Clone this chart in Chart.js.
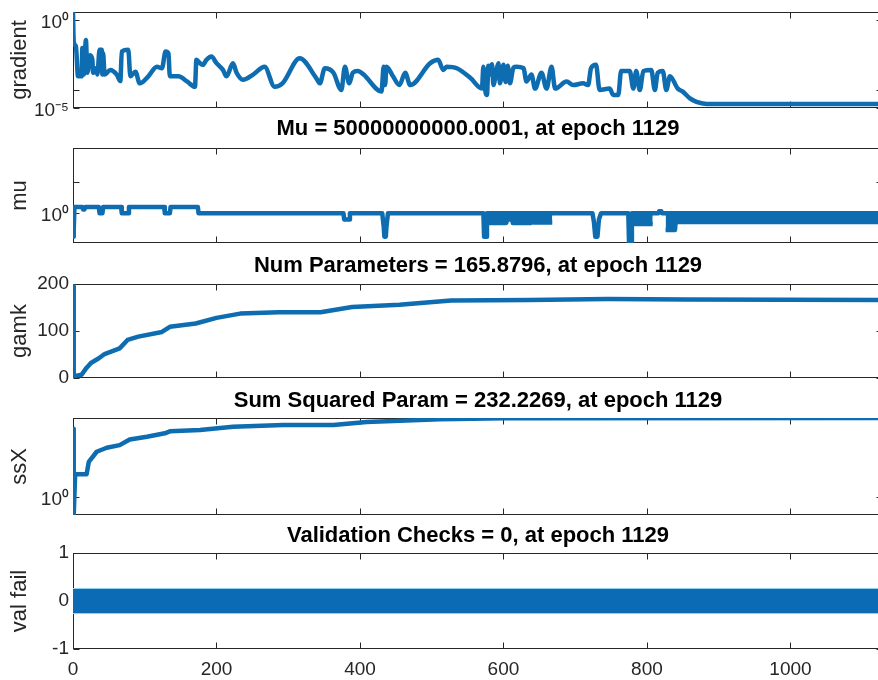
<!DOCTYPE html>
<html>
<head>
<meta charset="utf-8">
<title>Training state</title>
<script src="https://cdn.jsdelivr.net/npm/chart.js@4.4.1/dist/chart.umd.min.js"></script>
<style>
  html, body { margin: 0; padding: 0; background: #ffffff; overflow: hidden; }
  body { width: 878px; height: 680px; position: relative; }
  canvas { position: absolute; left: 0; }
</style>
</head>
<body>
<canvas id="pGrad"></canvas>
<canvas id="pMu"></canvas>
<canvas id="pGamk"></canvas>
<canvas id="pSsx"></canvas>
<canvas id="pVal"></canvas>
<script>
// ---- epoch axis ----
const epochMax = 1129;
const xTickValues = [0, 200, 400, 600, 800, 1000];
const xTickLabels = ['0', '200', '400', '600', '800', '1000'];

// ---- gradient ----
const gradEpoch = [0, 1, 4, 7, 12, 13, 15, 18, 20, 24, 27, 28, 32, 34, 37, 40, 41, 42, 44, 52,
  61, 66, 68, 77, 80, 87, 93, 105, 117, 124, 129, 133, 135, 147, 159, 170, 172, 177, 181, 186,
  193, 200, 209, 214, 223, 228, 237, 251, 267, 281, 292, 316, 339, 344, 351, 363, 374, 379, 385, 390,
  397, 405, 430, 433, 435, 437, 446, 455, 463, 470, 498, 509, 516, 521, 535, 554, 570, 572, 575, 577,
  579, 581, 584, 586, 590, 593, 595, 600, 603, 606, 609, 614, 618, 628, 632, 639, 644, 653, 660, 667,
  672, 688, 697, 711, 718, 722, 729, 734, 748, 753, 760, 764, 776, 781, 785, 790, 795, 806, 811, 815,
  822, 827, 832, 843, 850, 860, 869, 883, 1129];
const gradValue = [2.8, 0.059, 0.032, 6.3e-4, 6.3e-4, 0.025, 7.9e-4, 0.072, 1e-3, 0.01, 5.4e-3, 1e-3, 1.8e-3, 7.9e-4, 0.02, 0.02, 7.9e-4, 0.0126, 7.9e-4, 1.45e-3,
  7.9e-4, 3.4e-4, 0.016, 0.02, 6.3e-4, 1.15e-3, 2.5e-4, 6.3e-4, 2.2e-3, 1.8e-3, 0.016, 0.0126, 6.3e-4, 6.3e-4, 3.2e-4, 1.6e-4, 5.4e-3, 3.5e-3, 2.8e-3, 5.4e-3,
  8.3e-3, 3.5e-3, 1.45e-3, 6.3e-4, 3.5e-3, 1e-3, 4e-4, 7.9e-4, 2.2e-3, 1.6e-4, 2.5e-4, 6.6e-3, 5e-4, 2.5e-4, 1.8e-3, 1e-3, 1.05e-4, 2.2e-3, 2.5e-4, 1e-3,
  1.26e-3, 7.9e-4, 8.5e-5, 2.2e-3, 2e-4, 2.2e-3, 6.3e-4, 2e-4, 1e-3, 2e-4, 3.5e-3, 5.4e-3, 1.45e-3, 2.2e-3, 1.8e-3, 5e-4, 1.26e-4, 2.2e-3, 8e-5, 5.5e-5,
  2.5e-3, 7.9e-4, 3e-3, 2e-4, 1.26e-3, 3.5e-3, 2.5e-4, 2.8e-3, 3e-4, 2.5e-3, 2.5e-4, 2e-3, 2.2e-3, 1.8e-3, 3.2e-4, 7.9e-4, 1.26e-4, 1e-3, 1.26e-4, 2.2e-3,
  1.26e-4, 3.2e-4, 2e-4, 2.5e-4, 2e-4, 1.8e-3, 2.8e-3, 1.05e-4, 1.26e-4, 5.5e-5, 5.5e-5, 1.26e-3, 1.26e-3, 1.26e-4, 1.26e-3, 1.05e-4, 1.26e-3, 1.45e-3, 1.05e-4, 1e-3,
  1.26e-3, 1.05e-4, 6.3e-4, 1.26e-4, 8.5e-5, 3.5e-5, 2.2e-5, 1.7e-5, 1.7e-5];
const gradTicks = [1e-5, 1e-4, 1];
const gradTickLabels = ['10\u207B\u2075', '', '10\u2070'];

// ---- mu ----
const muEpoch = [0, 1, 2, 13, 14, 16, 17, 36, 37, 41, 42, 67, 68, 77, 78, 127, 128, 135, 136, 174,
  175, 377, 378, 385, 386, 431, 433, 434, 436, 437, 439, 572, 573, 576, 577, 724, 726, 728, 731, 733,
  736, 774, 775, 778, 779, 816, 817, 820, 821, 1129];
const muValue = [2e-4, 2e-3, 10, 10, 4, 4, 10, 10, 1, 1, 10, 10, 1, 1, 10, 10, 1, 1, 10, 10,
  1, 1, 0.1, 0.1, 1, 1, 0.01, 2e-4, 2e-4, 0.01, 1, 1, 2e-4, 2e-4, 1, 1, 0.05, 2e-4, 2e-4, 0.1,
  1, 1, 2.2e-5, 2.2e-5, 1, 1, 2, 2, 1, 1];
// stretches where mu flips every epoch: upper and lower envelope
const muBandEpoch = [578, 604, 605, 612, 613, 637, 638, 641, 642, 668, 669,
  781, 808, 809,
  826, 839, 840, 852, 853, 1129];
const muBandHigh = [1, 1, 1, 1, 1, 1, 1, 1, 1, 1, null,
  1, 1, null,
  1, 1, 1, 1, 1, 1];
const muBandLow = [0.03, 0.03, 0.1, 0.1, 0.03, 0.03, 0.3, 0.3, 0.035, 0.035, null,
  0.02, 0.02, null,
  2.3e-3, 2.3e-3, 0.04, 0.04, 0.04, 0.04];
const muTicks = [1, 1e5];
const muTickLabels = ['10\u2070', ''];

// ---- gamk ----
const gamkEpoch = [0, 1, 5, 12, 19, 25, 36, 44, 65, 76, 91, 124, 135, 171, 200, 233, 287, 345, 389, 455,
  527, 636, 745, 855, 1129];
const gamkValue = [195, 3, 5, 7, 22, 32, 42, 51, 63, 81, 88, 98, 109, 116, 128, 137, 140, 140, 151, 156,
  165, 166, 168, 167, 165.8796];
const gamkTicks = [0, 100, 200];
const gamkTickLabels = ['0', '100', '200'];

// ---- ssX ----
const ssxEpoch = [0, 1, 3, 19, 22, 33, 47, 65, 79, 103, 128, 135, 177, 223, 293, 363, 409, 511, 600, 1129];
const ssxValue = [110, 0.295, 4.9, 4.9, 11.4, 22.8, 30, 36, 53, 64, 81, 93, 101, 127, 143, 143, 176, 212, 228, 232.2269];
const ssxTicks = [1];
const ssxTickLabels = ['10\u2070'];

// ---- validation checks ----
const valEpoch = [0, 1129];
const valValue = [0, 0];
const valTicks = [-1, 0, 1];
const valTickLabels = ['-1', '0', '1'];

// ---- styling ----
const FONT = "'Liberation Sans', Arial, Helvetica, sans-serif";
const LINE = '#0e6cb0';
const AXIS = '#262626';
const CANVAS_W = 886;

function pts(xs, ys) {
  return xs.map((x, i) => ({ x: x, y: ys[i] }));
}

function lineSet(xs, ys, extra) {
  return Object.assign({
    data: pts(xs, ys),
    borderColor: LINE,
    backgroundColor: LINE,
    borderWidth: 4.5,
    pointRadius: 0,
    tension: 0,
    fill: false,
    spanGaps: false,
    borderJoinStyle: 'round'
  }, extra || {});
}

// axes box with inward tick marks on every side, as in a boxed plot
const boxTicks = {
  id: 'boxTicks',
  beforeDatasetsDraw(chart) {
    const { ctx, chartArea: a, scales } = chart;
    const o = chart.options.plugins.boxTicks;
    const L = Math.round(a.left) + 0.5, R = Math.round(a.right) - 0.5;
    const T = Math.round(a.top) + 0.5, B = Math.round(a.bottom) - 0.5;
    ctx.save();
    ctx.strokeStyle = AXIS;
    ctx.lineWidth = 1;
    ctx.strokeRect(L, T, R - L, B - T);
    ctx.beginPath();
    for (const v of xTickValues) {
      const px = Math.round(scales.x.getPixelForValue(v)) + 0.5;
      ctx.moveTo(px, T); ctx.lineTo(px, T + 6);
      ctx.moveTo(px, B); ctx.lineTo(px, B - 6);
    }
    for (const v of o.yTicks) {
      const py = Math.round(scales.y.getPixelForValue(v)) + 0.5;
      ctx.moveTo(L, py); ctx.lineTo(L + 6, py);
      ctx.moveTo(R, py); ctx.lineTo(R - 6, py);
    }
    ctx.stroke();
    ctx.restore();
  }
};

function panel(p) {
  const cv = document.getElementById(p.id);
  cv.width = CANVAS_W;
  cv.height = p.height;
  cv.style.top = p.top + 'px';
  cv.style.width = CANVAS_W + 'px';
  cv.style.height = p.height + 'px';

  const xScale = {
    type: 'linear',
    min: 0,
    max: epochMax,
    display: !!p.showX,
    grid: { display: false, drawTicks: false },
    border: { display: false },
    ticks: {
      includeBounds: false,
      padding: 9,
      color: AXIS,
      font: { family: FONT, size: 19 },
      maxRotation: 0,
      autoSkip: false,
      callback: (v, i) => xTickLabels[i]
    },
    afterBuildTicks: s => { s.ticks = xTickValues.map(v => ({ value: v })); },
    afterFit: s => {
      if (p.showX) s.height = 31;
      s.paddingLeft = 0; s.paddingRight = 0; s.paddingTop = 0; s.paddingBottom = 0;
    }
  };

  const yScale = {
    type: p.yType,
    min: p.yMin,
    max: p.yMax,
    grid: { display: false, drawTicks: false },
    border: { display: false },
    title: {
      display: true,
      text: p.yLabel,
      color: AXIS,
      font: { family: FONT, size: 22 },
      padding: { top: 7, bottom: 0 }
    },
    ticks: {
      padding: 4,
      color: AXIS,
      labelOffset: p.labelOffset || 0,
      font: { family: FONT, size: 19 },
      autoSkip: false,
      callback: (v, i) => p.yTickLabels[i]
    },
    afterBuildTicks: s => { s.ticks = p.yTicks.map(v => ({ value: v })); },
    afterFit: s => {
      s.width = 73;
      s.paddingLeft = 0; s.paddingRight = 0; s.paddingTop = 0; s.paddingBottom = 0;
    }
  };

  return new Chart(cv, {
    type: 'line',
    data: { datasets: p.datasets },
    options: {
      responsive: false,
      animation: false,
      devicePixelRatio: 1,
      layout: { padding: p.padding },
      scales: { x: xScale, y: yScale },
      plugins: {
        legend: { display: false },
        tooltip: { enabled: false },
        boxTicks: { yTicks: p.yTicks },
        title: {
          display: !!p.title,
          text: p.title || '',
          fullSize: false,
          color: '#000000',
          font: { family: FONT, size: 22, weight: 'bold' },
          padding: { top: 0, bottom: p.titleGap || 0 }
        }
      }
    },
    plugins: [boxTicks]
  });
}

panel({
  id: 'pGrad', top: 0, height: 122,
  padding: { top: 12, bottom: 14, left: 0, right: 3 },
  yLabel: 'gradient', yType: 'logarithmic', yMin: 1e-5, yMax: 2.8,
  yTicks: gradTicks, yTickLabels: gradTickLabels, labelOffset: 3,
  datasets: [lineSet(gradEpoch, gradValue, { cubicInterpolationMode: 'monotone' })]
});

panel({
  id: 'pMu', top: 116, height: 141,
  title: 'Mu = 50000000000.0001, at epoch 1129', titleGap: 5.6,
  padding: { top: 0, bottom: 14, left: 0, right: 3 },
  yLabel: 'mu', yType: 'logarithmic', yMin: 2e-5, yMax: 2e10,
  yTicks: muTicks, yTickLabels: muTickLabels, labelOffset: 3,
  datasets: [
    lineSet(muEpoch, muValue),
    lineSet(muBandEpoch, muBandHigh),
    lineSet(muBandEpoch, muBandLow, { fill: '-1' })
  ]
});

panel({
  id: 'pGamk', top: 253, height: 139,
  title: 'Num Parameters = 165.8796, at epoch 1129', titleGap: 4.6,
  padding: { top: 0, bottom: 14, left: 0, right: 3 },
  yLabel: 'gamk', yType: 'linear', yMin: 0, yMax: 200,
  yTicks: gamkTicks, yTickLabels: gamkTickLabels,
  datasets: [lineSet(gamkEpoch, gamkValue)]
});

panel({
  id: 'pSsx', top: 388, height: 141,
  title: 'Sum Squared Param = 232.2269, at epoch 1129', titleGap: 3.6,
  padding: { top: 0, bottom: 14, left: 0, right: 3 },
  yLabel: 'ssX', yType: 'logarithmic', yMin: 0.295, yMax: 232.2269,
  yTicks: ssxTicks, yTickLabels: ssxTickLabels, labelOffset: 3,
  datasets: [lineSet(ssxEpoch, ssxValue)]
});

panel({
  id: 'pVal', top: 523, height: 157,
  title: 'Validation Checks = 0, at epoch 1129', titleGap: 3.6,
  padding: { top: 0, bottom: 0, left: 0, right: 3 },
  yLabel: 'val fail', yType: 'linear', yMin: -1, yMax: 1,
  yTicks: valTicks, yTickLabels: valTickLabels, showX: true,
  datasets: [
    lineSet(valEpoch, valValue, { borderWidth: 24, borderCapStyle: 'butt', borderColor: '#0b6cb5' }),
    lineSet(valEpoch, valValue, { borderWidth: 26, borderCapStyle: 'butt', borderColor: '#8fd2f0' })
  ]
});
</script>
</body>
</html>
